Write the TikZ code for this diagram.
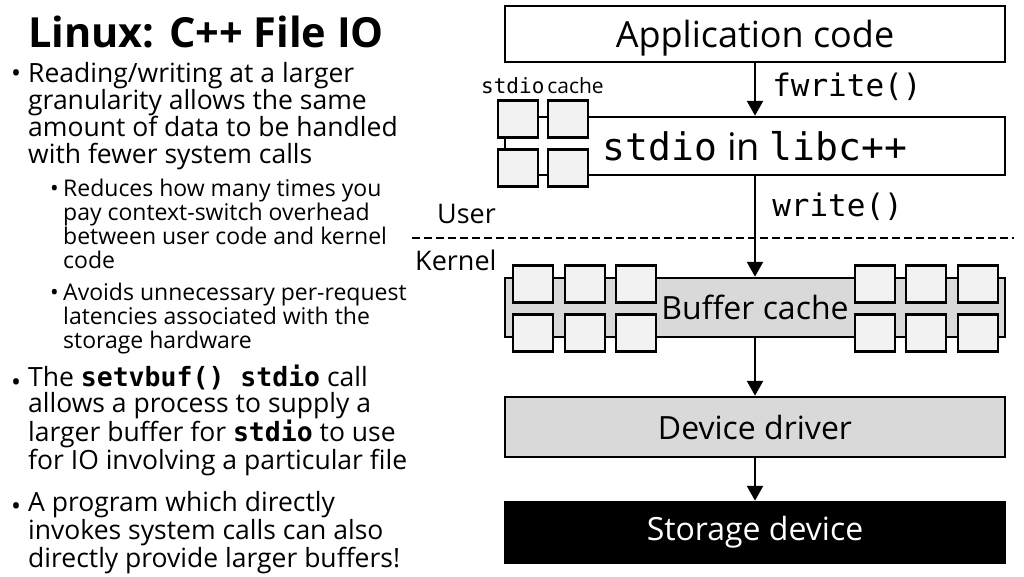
\documentclass[tikz,border=0pt]{standalone}
\usepackage{fontspec}
\setmainfont{Open Sans}
\setmonofont{DejaVu Sans Mono}
\usetikzlibrary{positioning,arrows.meta}

\definecolor{barfill}{RGB}{217,217,217}
\definecolor{sqfill}{RGB}{242,242,242}

\def\bcode#1{\textbf{\texttt{#1}}}

\begin{document}
\begin{tikzpicture}[x=1pt,y=-1pt]
\tikzset{
	layer/.style={draw, line width=2.5pt, minimum width=500pt, inner sep=0pt,
		font=\fontsize{32}{32}\selectfont},
	cachesq/.style={draw, line width=2.5pt, fill=sqfill,
		minimum width=40pt, minimum height=37pt, inner sep=0pt},
	callarrow/.style={-{Triangle[length=15pt,width=16pt]}, line width=2.5pt},
	calllabel/.style={inner sep=0pt, anchor=west, font=\ttfamily\fontsize{31}{31}\selectfont},
	% multi-line text sits on the baseline of its last line
	slidetext/.style={anchor=base west, align=left, inner sep=0pt},
	mainsize/.style={font=\fontsize{26.5}{27}\selectfont},
	subsize/.style={font=\fontsize{23}{24}\selectfont},
	lowsize/.style={font=\fontsize{26.5}{26}\selectfont},
}
\useasboundingbox (0,0) rectangle (1024,576);

\def\midX{755}

% title
\node[slidetext, font=\bfseries\fontsize{41.5}{41.5}\selectfont] (title) at (28,47) {Linux: C++ File IO};

% bullets
\node[slidetext, mainsize] (dot1) at (11,82) {•};
\node[slidetext, mainsize] (txt1) at (28,163) {Reading/writing at a larger\\granularity allows the same\\amount of data to be handled\\with fewer system calls};

\node[slidetext, subsize] (dot2) at (50,196) {•};
\node[slidetext, subsize] (txt2) at (63,268) {Reduces how many times you\\pay context-switch overhead\\between user code and kernel\\code};

\node[slidetext, subsize] (dot3) at (50,300) {•};
\node[slidetext, subsize] (txt3) at (63,348) {Avoids unnecessary per-request\\latencies associated with the\\storage hardware};

\node[slidetext, lowsize] (dot4) at (11,391) {•};
\node[slidetext, lowsize] (txt4) at (28,469) {The \bcode{setvbuf() stdio} call\\allows a process to supply a\\larger buffer for \bcode{stdio} to use\\for IO involving a particular file};

\node[slidetext, lowsize] (dot5) at (11,515) {•};
\node[slidetext, lowsize] (txt5) at (28,567) {A program which directly\\invokes system calls can also\\directly provide larger buffers!};

% user / kernel split
\coordinate (splitL) at (412,238);
\coordinate (splitR) at (1014,238);
\draw[line width=1.5pt, dash pattern=on 8pt off 4pt] (splitL) -- (splitR);
\node[slidetext, font=\fontsize{27}{27}\selectfont] (user) at (437,223) {User};
\node[slidetext, font=\fontsize{27}{27}\selectfont] (kernel) at (415,270) {Kernel};

% layers
\node[layer, minimum height=56pt, text depth=0pt, font=\fontsize{36}{36}\selectfont] (app) at (\midX,34) {Application code};
\node[layer, minimum height=58pt, font=\fontsize{38}{38}\selectfont] (lib) at (\midX,146) {\texttt{stdio} in \texttt{libc++}};
\node[layer, minimum height=59pt, fill=barfill] (bufc) at (\midX,307.5) {Buffer cache};
\node[layer, minimum height=60pt, fill=barfill] (drv) at (\midX,427) {Device driver};
\node[layer, minimum height=61pt, fill=black, text=white] (stor) at (\midX,532.5) {Storage device};

% stdio cache
\foreach \cx in {518,568}{
	\foreach \cy in {119,168}{
		\node[cachesq] (sq-\cx-\cy) at (\cx,\cy) {};
	}
}
\node[slidetext, font=\fontsize{21}{21}\selectfont] (cachelbl) at (481,93) {\texttt{stdio}\hspace{3pt}cache};

% buffer cache blocks
\foreach \cx in {533,585,636,875,926,978}{
	\foreach \cy in {284,333}{
		\node[cachesq] (bq-\cx-\cy) at (\cx,\cy) {};
	}
}

% calls
\draw[callarrow] (app) -- (lib) node[calllabel, pos=0.45, right=16pt] (fw) {fwrite()};
\draw[callarrow] (lib) -- (bufc) node[calllabel, pos=0.3, right=16pt] (wr) {write()};
\draw[callarrow] (bufc) -- (drv);
\draw[callarrow] (drv) -- (stor);

\end{tikzpicture}
\end{document}
